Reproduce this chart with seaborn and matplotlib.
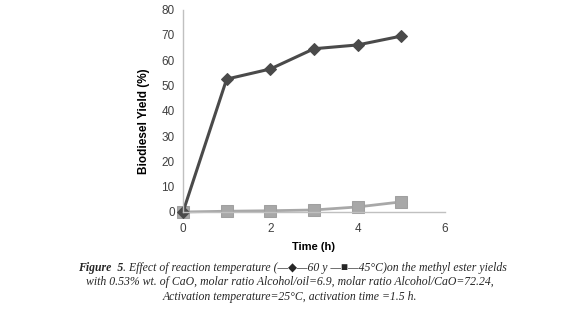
import matplotlib
matplotlib.use("Agg")
import matplotlib.pyplot as plt
import seaborn as sns
import pandas as pd

time_h = [0, 1, 2, 3, 4, 5]
yield_60 = [0, 52.5, 56.5, 64.5, 66.0, 69.5]
yield_45 = [0, 0.3, 0.5, 0.8, 2.0, 4.0]
x_ticks = [0, 2, 4, 6]
y_ticks = [0, 10, 20, 30, 40, 50, 60, 70, 80]

sns.set_theme(style="white")
plt.rcParams['font.family'] = ['Liberation Sans', 'DejaVu Sans']

df = pd.concat([
    pd.DataFrame({"Time": time_h, "Yield": yield_60, "T": "60"}),
    pd.DataFrame({"Time": time_h, "Yield": yield_45, "T": "45"}),
])

fig = plt.figure(figsize=(5.8, 3.15), dpi=100)
ax = fig.add_axes([183/580, 1-212/315, (445-183)/580, (212-9.5)/315])

sns.lineplot(data=df[df["T"] == "45"], x="Time", y="Yield", ax=ax, color="#a8a8a8",
             marker="s", markersize=8.5, markeredgecolor="#a0a0a0", linewidth=2, legend=False)
sns.lineplot(data=df[df["T"] == "60"], x="Time", y="Yield", ax=ax, color="#4a4a4a",
             marker="D", markersize=6, markeredgecolor="#4a4a4a", linewidth=2.2, legend=False)

ax.set_xlim(0, 6)
ax.set_ylim(0, 80)
ax.set_xticks(x_ticks)
ax.set_yticks(y_ticks)
for ln in ax.lines:
    ln.set_clip_on(False)
for s in ["top", "right"]:
    ax.spines[s].set_visible(False)
for s in ["left", "bottom"]:
    ax.spines[s].set_color("#c0c0c0")
    ax.spines[s].set_linewidth(1)
ax.tick_params(axis="both", direction="inout", length=6, width=1, color="#c0c0c0",
               labelsize=8.5, labelcolor="#404040", pad=3)
ax.tick_params(axis="x", pad=5)
ax.set_xlabel("Time (h)", fontsize=8, fontweight="bold", color="black", labelpad=5)
ax.set_ylabel("Biodiesel Yield (%)", fontsize=8.5, fontweight="bold", color="black", labelpad=5)
ax.yaxis.set_label_coords(-0.127, 0.45)

serif = ['Liberation Serif', 'DejaVu Serif', 'DejaVu Sans']
t1 = fig.text(78/580, 1-268/315, "Figure  5", fontsize=8.5, fontweight="bold",
              fontstyle="italic", family=serif, va="center", ha="left")
ax.annotate(". Effect of reaction temperature (\u2014\u25c6\u201460 y \u2014\u25a0\u201445\u00b0C)on the methyl ester yields",
            xy=(1, 0.5), xycoords=t1, va="center", ha="left", fontsize=8.5,
            fontstyle="italic", family=serif, annotation_clip=False)
fig.text(0.5, 1-282.5/315,
         "with 0.53% wt. of CaO, molar ratio Alcohol/oil=6.9, molar ratio Alcohol/CaO=72.24,",
         fontsize=8.5, fontstyle="italic", family=serif, va="center", ha="center")
fig.text(0.5, 1-297/315,
         "Activation temperature=25\u00b0C, activation time =1.5 h.",
         fontsize=8.5, fontstyle="italic", family=serif, va="center", ha="center")

fig.savefig("out.png", dpi=100)
